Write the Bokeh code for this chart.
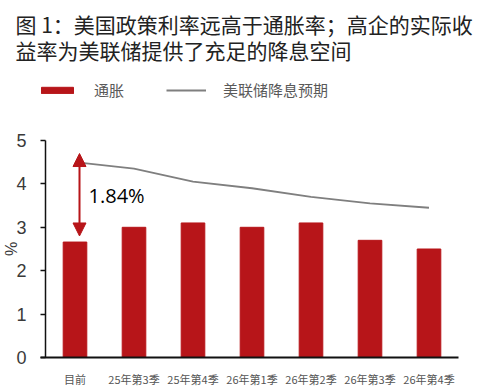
from bokeh.plotting import figure
from bokeh.models import (Range1d, Label, Arrow, NormalHead, Legend, LegendItem,
                          ColumnDataSource, FixedTicker)
from bokeh.embed import file_html
from bokeh.resources import INLINE

categories = ["目前", "25年第3季", "25年第4季", "26年第1季", "26年第2季", "26年第3季", "26年第4季"]
inflation = [2.66, 3.0, 3.1, 3.0, 3.1, 2.7, 2.5]
fed_cut_expect = [4.5, 4.35, 4.05, 3.9, 3.7, 3.55, 3.45]
y_ticks = [0, 1, 2, 3, 4, 5]
gap_label = "1.84%"
title_lines = ["图 1：美国政策利率远高于通胀率；高企的实际收", "益率为美联储提供了充足的降息空间"]
legend_labels = ["通胀", "美联储降息预期"]

RED = "#B71519"
GRAY = "#7F7F7F"
CJK = "Noto Sans CJK SC"
W, H = 482, 391

# plot-area geometry (pixels inside the canvas)
FRAME_L, FRAME_R, FRAME_T, FRAME_B = 45, 458, 140, 357
n = len(categories)
x_pos = list(range(1, n + 1))
px_per_cat = (FRAME_R - FRAME_L) / n
y_max = y_ticks[-1]
px_per_unit = (FRAME_B - FRAME_T) / y_max

x_range = Range1d(0.5 - FRAME_L / px_per_cat, n + 0.5 + (W - FRAME_R) / px_per_cat)
y_range = Range1d(-(H - FRAME_B) / px_per_unit, y_max + FRAME_T / px_per_unit)

src = ColumnDataSource(dict(x=x_pos, infl=inflation, fed=fed_cut_expect))

p = figure(width=W, height=H, x_range=x_range, y_range=y_range,
           output_backend="svg", toolbar_location=None,
           min_border_left=0, min_border_right=0, min_border_top=0, min_border_bottom=0)
p.outline_line_color = None
p.grid.visible = False

bars = p.vbar(x="x", top="infl", width=0.4, source=src, fill_color=RED, line_color=RED)
line = p.line(x="x", y="fed", source=src, line_color=GRAY, line_width=1.8)

# y axis, fixed at the left edge of the category band
p.yaxis.fixed_location = 0.5
p.yaxis.bounds = (0, y_max)
p.yaxis.ticker = FixedTicker(ticks=y_ticks)
p.yaxis.major_label_text_font = "Liberation Sans"
p.yaxis.major_label_text_font_size = "18px"
p.yaxis.major_label_text_color = "#3a3a3a"
p.yaxis.major_tick_out = 5
p.yaxis.major_tick_in = 0
p.yaxis.minor_tick_line_color = None
p.yaxis.major_label_standoff = 14
p.yaxis.axis_line_color = "#111111"
p.yaxis.axis_line_width = 1.5
p.yaxis.major_tick_line_color = "#111111"
p.yaxis.major_tick_line_width = 1.5
p.yaxis.axis_label = "%"
p.yaxis.axis_label_standoff = -7
p.yaxis.axis_label_text_font = "Liberation Sans"
p.yaxis.axis_label_text_font_size = "16px"
p.yaxis.axis_label_text_font_style = "normal"
p.yaxis.axis_label_text_color = "#3a3a3a"

# x axis at y = 0 with category labels
p.xaxis.fixed_location = 0
p.xaxis.bounds = (0.5 - 5 / px_per_cat, n + 0.5)
p.xaxis.ticker = FixedTicker(ticks=x_pos)
p.xaxis.major_label_overrides = {xp: c for xp, c in zip(x_pos, categories)}
p.xaxis.major_tick_line_color = None
p.xaxis.major_tick_out = 0
p.xaxis.minor_tick_line_color = None
p.xaxis.major_label_standoff = 13
p.xaxis.major_label_text_font = CJK
p.xaxis.major_label_text_font_size = "11px"
p.xaxis.major_label_text_color = "#555555"
p.xaxis.axis_line_color = "#111111"
p.xaxis.axis_line_width = 2

# title
for i, t in enumerate(title_lines):
    p.add_layout(Label(x=15, y=H - 23 - 26 * i, x_units="screen", y_units="screen", text=t,
                       text_font=CJK, text_font_size="21px", text_color="#222222",
                       text_align="left", text_baseline="middle"))

# legend
legend = Legend(items=[LegendItem(label=legend_labels[0], renderers=[bars]),
                       LegendItem(label=legend_labels[1], renderers=[line])],
                location=(37, H - 100), orientation="horizontal",
                glyph_width=40, glyph_height=8, label_height=20, label_standoff=17, spacing=42,
                padding=0, margin=0, border_line_color=None, background_fill_alpha=0,
                label_text_font=CJK, label_text_font_size="15px", label_text_color="#595959")
p.add_layout(legend)

# gap arrow and label
arrow_x = 0.5 + 34 / px_per_cat
arrow_head = dict(size=13, fill_color=RED, line_color=RED)
p.add_layout(Arrow(x_start=arrow_x, y_start=2.8, x_end=arrow_x, y_end=4.7,
                   start=NormalHead(**arrow_head), end=NormalHead(**arrow_head),
                   line_color=RED, line_width=2))
p.add_layout(Label(x=0.5 + 43 / px_per_cat, y=3.73, text=gap_label, text_font="Open Sans",
                   text_font_size="20px", text_color="#000000", text_align="left",
                   text_baseline="middle"))

open("out.html", "w").write(file_html(p, INLINE))
